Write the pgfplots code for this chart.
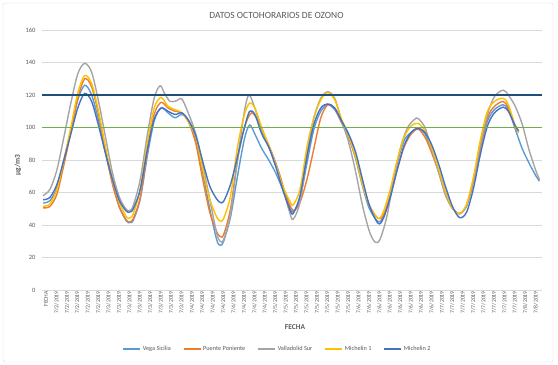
\documentclass[border=0pt]{standalone}
\usepackage{pgfplots}
\pgfplotsset{compat=1.18}
\usepackage{fontspec}
\setmainfont{Carlito}
\definecolor{vega}{HTML}{5B9BD5}
\definecolor{puente}{HTML}{ED7D31}
\definecolor{valla}{HTML}{A5A5A5}
\definecolor{mich1}{HTML}{FFC000}
\definecolor{mich2}{HTML}{4472C4}
\definecolor{navy}{HTML}{1F4E79}
\definecolor{lgreen}{HTML}{70AD47}
\definecolor{txt}{HTML}{595959}
\definecolor{gridc}{HTML}{D9D9D9}
\begin{document}
\begin{tikzpicture}
\useasboundingbox (-42bp,-75bp) rectangle (516bp,290bp);
\draw[gridc, rounded corners=2bp] (-39bp,-72bp) rectangle (511bp,287bp);
\begin{axis}[
  scale only axis, width=500bp, height=260bp,
  at={(0,0)}, anchor=south west, clip=false,
  xmin=-0.3, xmax=143.7, ymin=0, ymax=160,
  ytick={0,20,...,160},
  xtick={0,3,...,141},
  xticklabels={FECHA,7/2/2019,7/2/2019,7/2/2019,7/2/2019,7/2/2019,
    7/3/2019,7/3/2019,7/3/2019,7/3/2019,7/3/2019,7/3/2019,7/3/2019,7/3/2019,
    7/4/2019,7/4/2019,7/4/2019,7/4/2019,7/4/2019,7/4/2019,7/4/2019,7/4/2019,
    7/5/2019,7/5/2019,7/5/2019,7/5/2019,7/5/2019,7/5/2019,7/5/2019,7/5/2019,
    7/6/2019,7/6/2019,7/6/2019,7/6/2019,7/6/2019,7/6/2019,7/6/2019,7/6/2019,
    7/7/2019,7/7/2019,7/7/2019,7/7/2019,7/7/2019,7/7/2019,7/7/2019,7/7/2019,
    7/8/2019,7/8/2019},
  /pgf/number format/assume math mode=true,
  axis line style={draw=none},
  major tick length=0pt,
  ymajorgrids, grid style={gridc, line width=0.6pt},
  yticklabel style={font=\fontsize{6.5}{7}\selectfont, text=txt, xshift=-3bp},
  xticklabel style={font=\fontsize{5.8}{6}\selectfont, text=txt, rotate=90, anchor=east, inner sep=1bp, yshift=-3bp},
  legend style={at={(axis description cs:0.471,0)}, anchor=center, yshift=-59bp, draw=none, fill=none,
    font=\fontsize{6.3}{7}\selectfont, text=txt, legend columns=5,
    /tikz/every even column/.append style={column sep=10bp}},
  legend cell align=left,
  every axis plot/.append style={line width=1.4pt, smooth, tension=0.5},
]
\addplot[vega] coordinates {(0,53.5)(2,55)(4,63)(6,80)(8,98)(10,117)(12,126)(14,120)(16,104)(18,84)(20,66)(22,51)(24,42.5)(25,41.5)(26,43)(28,56)(30,82)(32,104)(34,112)(36,109)(38,106)(40,108)(42,104)(44,92)(46,72)(48,50)(50,31)(51,27.5)(52,30)(54,45)(56,70)(58,93)(59.5,101.5)(61,96)(63,87)(65,80)(67,72)(69,62)(71,51)(72,48)(74,56)(76,78)(78,99)(80,110)(82,114)(84,111)(86,103)(88,94)(90,81)(92,64)(94,50)(96.5,42)(98,45)(100,58)(102,78)(104,92)(106,97)(108,99.5)(110,96)(112,86)(114,73)(116,59)(118,50)(120,47)(122,52)(124,68)(126,88)(128,104)(130,111)(132.5,114)(134,111)(136,99)(138,87)(140,78)(142,70)(143,67)};
\addlegendentry{Vega Sicilia}
\addplot[puente] coordinates {(0,50.5)(2,51.5)(4,59)(6,77)(8,97)(10,118)(12,130)(14,125)(16,108)(18,86)(20,65)(22,51)(24,43)(25,42)(26,44)(28,57)(30,85)(32,108)(34,115.5)(36,112)(38,110)(40,109)(42,103)(44,90)(46,68)(48,48)(50,36)(51,33)(52,34)(54,50)(56,80)(58,100)(60,109)(62,104)(64,94)(66,84)(68,72)(70,58)(72,49)(74,54)(76,68)(78,87)(80,106)(82,114)(84,112)(86,103)(88,94)(90,82)(92,66)(94,52)(96.5,44)(98,46)(100,58)(102,74)(104,88)(106,96)(108,99)(110,94)(112,84)(114,72)(116,58)(118,50)(120,47)(122,52)(124,67)(126,88)(128,106)(130,113)(132.5,116)(134,112)(136,100)(137,97)};
\addlegendentry{Puente Poniente}
\addplot[valla] coordinates {(0,58)(2,62)(4,74)(6,94)(8,115)(10,133)(12,139.5)(14,134)(16,116)(18,94)(20,72)(22,57)(24,49.5)(25,49)(26,52)(28,68)(30,95)(32,118)(33.7,125.7)(35,121)(36.6,116)(38.5,116.5)(40,117.5)(42,108)(44,96)(46,77)(48,56)(50,35)(51,30)(52,31)(54,47)(56,80)(58,110)(59.3,120)(61,112)(63,98)(65,88)(67,78)(69,63)(71,48)(72,43.5)(74,54)(76,84)(78,106)(80,118)(82,122)(84,118)(86,104)(88,91)(90,73)(92,52)(94,36)(95.6,29.5)(97,31)(99,45)(101,68)(103,88)(105,100)(107,105)(108,105.6)(110,100)(112,86)(114,72)(116,58)(118,50)(120,47)(122,52)(124,68)(126,90)(128,108)(130,119)(132.5,123)(134,120)(136,113)(138,102)(140,86)(142,73)(143,68)};
\addlegendentry{Valladolid Sur}
\addplot[mich1] coordinates {(0,51.5)(2,53)(4,62)(6,80)(8,100)(10,121)(12,132)(14,127)(16,110)(18,88)(20,68)(22,54)(24,45)(25,44.5)(26,47)(28,62)(30,90)(32,112)(34,118.5)(36,113)(38,111)(40,109)(42,103)(44,94)(46,74)(48,56)(50,45)(51,42.5)(52,44)(54,58)(56,88)(58,108)(59.5,115)(61,112)(63,100)(65,89)(67,77)(69,64)(71,55)(72,52.3)(74,62)(76,88)(78,106)(80,117)(82,121.5)(84,117)(86,105)(88,95)(90,82)(92,65)(94,52)(96.5,44)(98,48)(100,62)(102,80)(104,94)(106,101)(108,102.5)(110,98)(112,87)(114,74)(116,60)(118,50)(120,47)(122,53)(124,70)(126,93)(128,110)(130,116)(132.5,118)(134,114)(136,101)(137,97)};
\addlegendentry{Michelin 1}
\addplot[mich2] coordinates {(0,55.5)(2,57)(4,65)(6,80)(8,96)(10,112)(12,121)(14,116)(16,101)(18,84)(20,68)(22,55)(24,48.5)(25,48)(26,50)(28,62)(30,86)(32,105)(34,112)(36,110)(38,108)(40,109)(42,104)(44,95)(46,79)(48,64)(50,56)(51,54)(52,54.5)(54,65)(56,82)(58,100)(59.5,110)(61,108)(63,96)(65,88)(67,76)(69,62)(71,50)(72,47)(74,58)(76,82)(78,102)(80,112)(82,114.5)(84,112)(86,104)(88,96)(90,85)(92,68)(94,52)(96.5,41)(98,44)(100,57)(102,74)(104,89)(106,97)(108,99.5)(110,97)(112,89)(114,77)(116,63)(118,51)(120,44.5)(122,48)(124,63)(126,84)(128,101)(130,109)(132.5,112.5)(134,110)(136,101)(137,98)};
\addlegendentry{Michelin 2}
\addplot[navy, line width=1.9pt, forget plot] coordinates {(-0.3,120)(143.7,120)};
\addplot[lgreen, line width=1.9pt, forget plot] coordinates {(-0.3,100)(143.7,100)};
\node[font=\fontsize{9.5}{11}\selectfont, text=txt] at (axis description cs:0.469,1) [yshift=15bp] {DATOS OCTOHORARIOS DE OZONO};
\node[font=\bfseries\fontsize{7.5}{9}\selectfont, text=txt, rotate=90] at (axis description cs:0,0.48) [yshift=24bp] {µg/m3};
\node[font=\bfseries\fontsize{7.5}{9}\selectfont, text=txt] at (axis description cs:0.506,0) [yshift=-37bp] {FECHA};
\end{axis}
\end{tikzpicture}
\end{document}
